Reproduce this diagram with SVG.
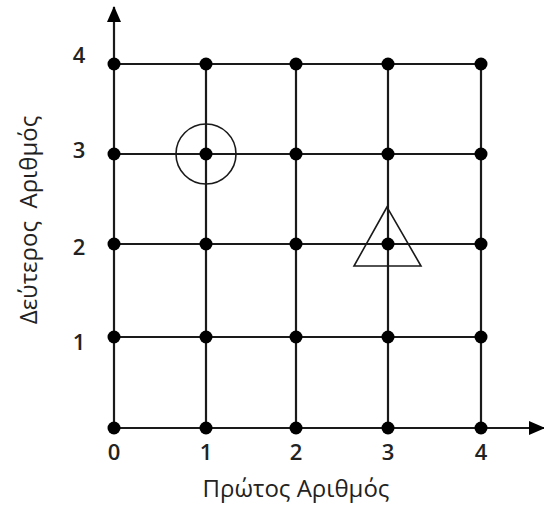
<svg xmlns="http://www.w3.org/2000/svg" width="544" height="506" viewBox="0 0 544 506">
<defs>
<style>
.ln{stroke:#1a1a1a;stroke-width:2.2;fill:none}
.dot{fill:#000}
.sh{stroke:#1a1a1a;stroke-width:1.6;fill:none}
.t{font-family:"Open Sans","Liberation Sans",sans-serif;font-size:24px;fill:#222}
.tn{font-family:"Open Sans","Liberation Sans",sans-serif;font-size:22px;font-weight:600;fill:#222}
</style>
<marker id="ah" markerWidth="16" markerHeight="16" refX="15" refY="8" orient="auto" markerUnits="userSpaceOnUse" viewBox="0 0 16 16">
<path d="M0,1 L16,8 L0,15 Z" fill="#000"/>
</marker>
</defs>
<rect width="544" height="506" fill="#fff"/>
<g id="connectors">
<line class="ln" x1="114" y1="428" x2="114" y2="7" marker-end="url(#ah)"/>
<line class="ln" x1="114" y1="428" x2="544" y2="428" marker-end="url(#ah)"/>
<line class="ln" x1="114" y1="64" x2="481" y2="64"/>
<line class="ln" x1="114" y1="154" x2="481" y2="154"/>
<line class="ln" x1="114" y1="244" x2="481" y2="244"/>
<line class="ln" x1="114" y1="337" x2="481" y2="337"/>
<line class="ln" x1="206" y1="64" x2="206" y2="428"/>
<line class="ln" x1="296" y1="64" x2="296" y2="428"/>
<line class="ln" x1="388" y1="64" x2="388" y2="428"/>
<line class="ln" x1="481" y1="64" x2="481" y2="428"/>
</g>
<g id="dots">
<circle class="dot" cx="114" cy="64" r="6.5"/><circle class="dot" cx="206" cy="64" r="6.5"/><circle class="dot" cx="296" cy="64" r="6.5"/><circle class="dot" cx="388" cy="64" r="6.5"/><circle class="dot" cx="481" cy="64" r="6.5"/>
<circle class="dot" cx="114" cy="154" r="6.5"/><circle class="dot" cx="206" cy="154" r="6.5"/><circle class="dot" cx="296" cy="154" r="6.5"/><circle class="dot" cx="388" cy="154" r="6.5"/><circle class="dot" cx="481" cy="154" r="6.5"/>
<circle class="dot" cx="114" cy="244" r="6.5"/><circle class="dot" cx="206" cy="244" r="6.5"/><circle class="dot" cx="296" cy="244" r="6.5"/><circle class="dot" cx="388" cy="244" r="6.5"/><circle class="dot" cx="481" cy="244" r="6.5"/>
<circle class="dot" cx="114" cy="337" r="6.5"/><circle class="dot" cx="206" cy="337" r="6.5"/><circle class="dot" cx="296" cy="337" r="6.5"/><circle class="dot" cx="388" cy="337" r="6.5"/><circle class="dot" cx="481" cy="337" r="6.5"/>
<circle class="dot" cx="114" cy="428" r="6.5"/><circle class="dot" cx="206" cy="428" r="6.5"/><circle class="dot" cx="296" cy="428" r="6.5"/><circle class="dot" cx="388" cy="428" r="6.5"/><circle class="dot" cx="481" cy="428" r="6.5"/>
</g>
<g id="circle-marker"><circle class="sh" cx="206" cy="154" r="30"/></g>
<g id="triangle-marker"><polygon class="sh" points="387,207 354,266 421,266"/></g>
<g id="x-labels" class="tn" text-anchor="middle">
<text x="114" y="460">0</text><text x="206" y="460">1</text><text x="296" y="460">2</text><text x="388" y="460">3</text><text x="481" y="460">4</text>
</g>
<g id="y-labels" class="tn" text-anchor="middle">
<text x="79" y="63">4</text><text x="79" y="158">3</text><text x="79" y="255">2</text><text x="79" y="350">1</text>
</g>
<text class="t" x="296" y="497" text-anchor="middle">Πρώτος Αριθμός</text>
<text class="t" transform="translate(37,220) rotate(-90)" text-anchor="middle" xml:space="preserve">Δεύτερος  Αριθμός</text>
</svg>
